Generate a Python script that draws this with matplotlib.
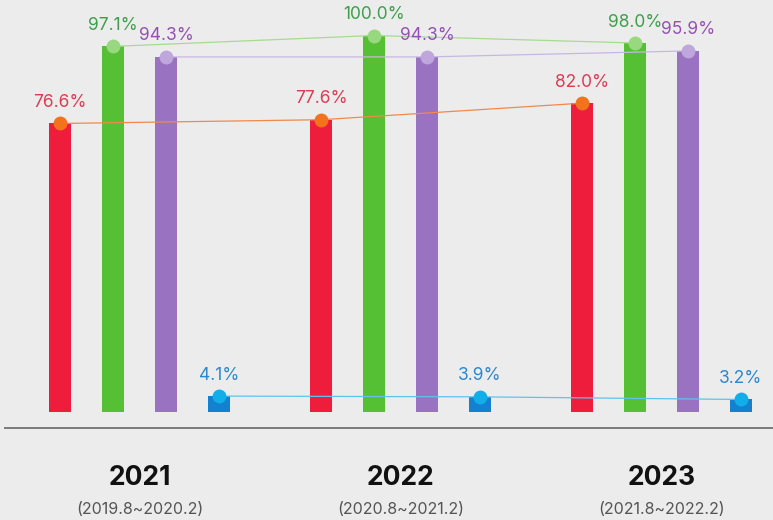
import numpy as np
import matplotlib.pyplot as plt

# data
years = ['2021', '2022', '2023']
periods = ['(2019.8~2020.2)', '(2020.8~2021.2)', '(2021.8~2022.2)']
red_vals = [76.6, 77.6, 82.0]
green_vals = [97.1, 100.0, 98.0]
purple_vals = [94.3, 94.3, 95.9]
blue_vals = [4.1, 3.9, 3.2]

# (bar colour, dot colour, line colour, text colour)
styles = [
    ('#ee1d3c', '#f2731c', '#f08a4a', '#e03a52'),
    ('#56c035', '#98d980', '#a6dc90', '#3d9f4c'),
    ('#9a72c2', '#bfa6dc', '#c8b6e2', '#9650b4'),
    ('#1480d0', '#12aeea', '#5cc4ee', '#2b88d0'),
]
series = [red_vals, green_vals, purple_vals, blue_vals]

plt.rcParams['font.family'] = ['Inter', 'DejaVu Sans']

fig = plt.figure(figsize=(7.73, 5.2), dpi=100, facecolor='#ececec')
ax = fig.add_axes([0, 0, 1, 1])
ax.set_facecolor('#ececec')

x = np.arange(len(years))
step = 53 / 261.0
width = 22 / 261.0

for i, (vals, st) in enumerate(zip(series, styles)):
    bar_c, dot_c, line_c, txt_c = st
    xs = x + (i - 1.5) * step
    ax.bar(xs, vals, width=width, color=bar_c, zorder=2)
    ax.plot(xs, vals, '-', color=line_c, linewidth=0.9, zorder=3)
    ax.plot(xs, vals, 'o', color=dot_c, markersize=10, markeredgewidth=0, zorder=4)
    for xx, v in zip(xs, vals):
        ax.annotate('%.1f%%' % v, (xx, v), xytext=(0, 9), textcoords='offset points',
                    ha='center', va='bottom', fontsize=12.5, color=txt_c, zorder=5)

# base rule
ax.plot([-0.517, 2.5], [-4.4, -4.4], '-', color='#7a7a7a', linewidth=1.4, clip_on=False)

for xx, yr, pr in zip(x, years, periods):
    ax.text(xx, -17.8, yr, ha='center', va='center', fontsize=19, fontweight='bold', color='#111111')
    ax.text(xx, -26.0, pr, ha='center', va='center', fontsize=11.5, color='#555555')

ax.set_xlim(-139.5 / 261, (773 - 139.5) / 261)
ax.set_ylim(-(520 - 411.5) / 3.76, 411.5 / 3.76)
ax.axis('off')

fig.savefig('out.png', dpi=100, facecolor=fig.get_facecolor())
